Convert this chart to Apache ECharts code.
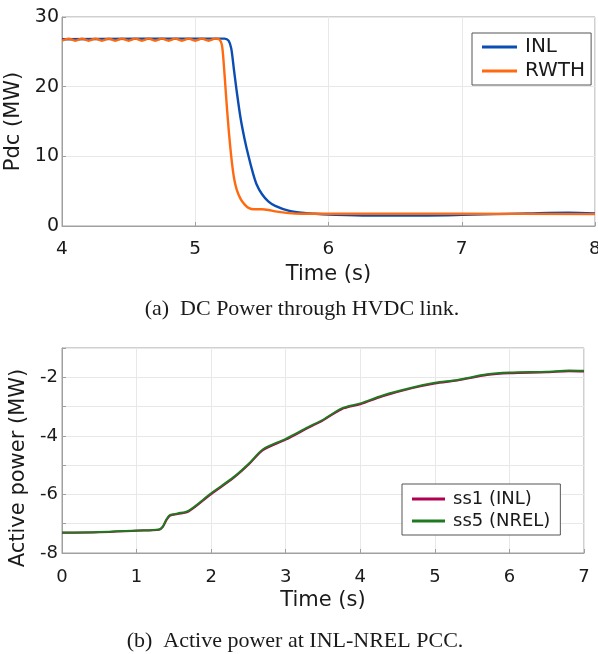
<!DOCTYPE html>
<html><head><meta charset="utf-8">
<script src="https://cdn.jsdelivr.net/npm/echarts@6/dist/echarts.min.js"></script>
<style>html,body{margin:0;padding:0;background:#fff}#c{width:598px;height:654px}</style>
</head><body><div id="c"></div>
<script>
// (a) DC power through HVDC link
const inlT  = [4.0,5.0,5.22,5.25,5.27,5.29,5.31,5.34,5.37,5.40,5.43,5.46,5.50,5.55,5.60,5.70,5.80,5.90,6.00,6.30,6.60,7.00,7.50,7.80,8.00];
const inlV  = [26.8,26.9,26.9,26.6,25.5,22.5,19.5,15.5,12.5,10.0,7.8,6.0,4.6,3.5,2.9,2.2,1.9,1.75,1.65,1.5,1.5,1.6,1.8,1.9,1.8];
const rwthT = [4.0,4.05,4.1,4.15,4.2,4.25,4.3,4.35,4.4,4.45,4.5,4.55,4.6,4.65,4.7,4.75,4.8,4.85,4.9,4.95,5.0,5.05,5.1,5.15,5.18,5.20,5.215,5.23,5.25,5.27,5.29,5.31,5.34,5.37,5.40,5.44,5.50,5.55,5.60,5.70,5.80,6.00,7.00,8.00];
const rwthV = [26.6,26.9,26.6,26.9,26.6,26.9,26.6,26.9,26.6,26.9,26.6,26.9,26.6,26.9,26.6,26.9,26.6,26.9,26.6,26.9,26.6,26.9,26.6,26.9,26.8,26.0,23.0,19.0,14.0,10.0,7.0,5.3,3.9,3.1,2.6,2.4,2.4,2.3,2.1,1.85,1.75,1.75,1.75,1.7];
const topXTicks = [4,5,6,7,8];
const topYTicks = [0,10,20,30];
// (b) Active power at INL-NREL PCC
const pccT  = [0,0.5,1.0,1.3,1.35,1.4,1.45,1.55,1.7,2.0,2.3,2.5,2.7,3.0,3.3,3.5,3.75,4.0,4.3,4.7,5.0,5.3,5.7,6.0,6.5,6.8,7.0];
const ss1V  = [-7.31,-7.29,-7.24,-7.21,-7.12,-6.88,-6.72,-6.67,-6.58,-5.99,-5.44,-4.99,-4.48,-4.13,-3.73,-3.47,-3.09,-2.92,-2.65,-2.37,-2.21,-2.11,-1.92,-1.86,-1.83,-1.79,-1.80];
const ss5V  = [-7.30,-7.28,-7.23,-7.20,-7.10,-6.85,-6.70,-6.65,-6.55,-5.96,-5.41,-4.96,-4.45,-4.10,-3.70,-3.45,-3.06,-2.89,-2.62,-2.35,-2.19,-2.09,-1.90,-1.84,-1.81,-1.77,-1.78];
const botXTicks = [0,1,2,3,4,5,6,7];
const botYLabels = [-8,-6,-4,-2];

const zip = (a,b)=>a.map((t,i)=>[t,b[i]]);
const font = 'DejaVu Sans';
const ink = '#1a1a1a';
const axisCommon = {
  axisLine:{show:true,lineStyle:{color:'#a0a0a0'}},
  axisTick:{show:true,inside:true,length:4,lineStyle:{color:'#a0a0a0'}},
  splitLine:{show:true,lineStyle:{color:'#e8e8e8'}},
  nameTextStyle:{color:ink,fontFamily:font,fontSize:21}
};
const lbl = (m,fs,extra)=>Object.assign({color:ink,fontFamily:font,fontSize:fs,margin:m},extra||{});
const chart = echarts.init(document.getElementById('c'));
chart.setOption({
  animation:false,
  grid:[
    {left:62,top:17,width:533,height:209,show:true,borderColor:'#a0a0a0',borderWidth:1,outerBoundsMode:'none',containLabel:false},
    {left:62,top:348,width:522,height:205,show:true,borderColor:'#a0a0a0',borderWidth:1,outerBoundsMode:'none',containLabel:false}
  ],
  xAxis:[
    Object.assign({},axisCommon,{type:'value',gridIndex:0,min:topXTicks[0],max:topXTicks[topXTicks.length-1],interval:1,
      name:'Time (s)',nameLocation:'middle',nameGap:38,axisLabel:lbl(14,18.5)}),
    Object.assign({},axisCommon,{type:'value',gridIndex:1,min:botXTicks[0],max:botXTicks[botXTicks.length-1],interval:1,
      name:'Time (s)',nameLocation:'middle',nameGap:37,axisLabel:lbl(15,18)})
  ],
  yAxis:[
    Object.assign({},axisCommon,{type:'value',gridIndex:0,min:topYTicks[0],max:topYTicks[topYTicks.length-1],interval:10,
      name:'Pdc (MW)',nameLocation:'middle',nameGap:24,axisLabel:lbl(3,19)}),
    Object.assign({},axisCommon,{type:'value',gridIndex:1,min:-8,max:-1,interval:1,
      name:'Active power (MW)',nameLocation:'middle',nameGap:26,
      nameTextStyle:{color:ink,fontFamily:font,fontSize:21,padding:[0,35,0,0]},
      axisLabel:lbl(4,18,{formatter:v=>botYLabels.indexOf(v)>=0?String(v):''})})
  ],
  legend:[
    {data:['INL','RWTH'],left:472,top:33,orient:'vertical',icon:'rect',itemWidth:35,itemHeight:3,itemGap:4,
     padding:[4,6,4,10],borderColor:'#555',borderWidth:1,backgroundColor:'#fff',
     textStyle:{fontFamily:font,fontSize:20,lineHeight:20,color:ink,padding:[0,0,0,3]}},
    {data:['ss1 (INL)','ss5 (NREL)'],left:402,top:484,orient:'vertical',icon:'rect',itemWidth:33,itemHeight:3,itemGap:4,
     padding:[6,10,5,10],borderColor:'#555',borderWidth:1,backgroundColor:'#fff',
     textStyle:{fontFamily:font,fontSize:18,lineHeight:18,color:ink,padding:[0,0,0,3]}}
  ],
  series:[
    {name:'INL',type:'line',xAxisIndex:0,yAxisIndex:0,data:zip(inlT,inlV),symbol:'none',smooth:0.3,lineStyle:{width:2.4,color:'#0b4db3'},itemStyle:{color:'#0b4db3'}},
    {name:'RWTH',type:'line',xAxisIndex:0,yAxisIndex:0,data:zip(rwthT,rwthV),symbol:'none',smooth:0.3,lineStyle:{width:2.4,color:'#ff6a10'},itemStyle:{color:'#ff6a10'}},
    {name:'ss1 (INL)',type:'line',xAxisIndex:1,yAxisIndex:1,data:zip(pccT,ss1V),symbol:'none',smooth:0.3,lineStyle:{width:2,color:'#b0004f'},itemStyle:{color:'#b0004f'}},
    {name:'ss5 (NREL)',type:'line',xAxisIndex:1,yAxisIndex:1,data:zip(pccT,ss5V),symbol:'none',smooth:0.3,lineStyle:{width:2,color:'#1f7a1f'},itemStyle:{color:'#1f7a1f'}}
  ],
  graphic:[
    {type:'text',x:302,y:309,style:{text:'(a)  DC Power through HVDC link.',font:'22px "Liberation Serif"',fill:ink,textAlign:'center',textVerticalAlign:'middle'}},
    {type:'text',x:295,y:641,style:{text:'(b)  Active power at INL-NREL PCC.',font:'22px "Liberation Serif"',fill:ink,textAlign:'center',textVerticalAlign:'middle'}}
  ]
});
</script></body></html>
